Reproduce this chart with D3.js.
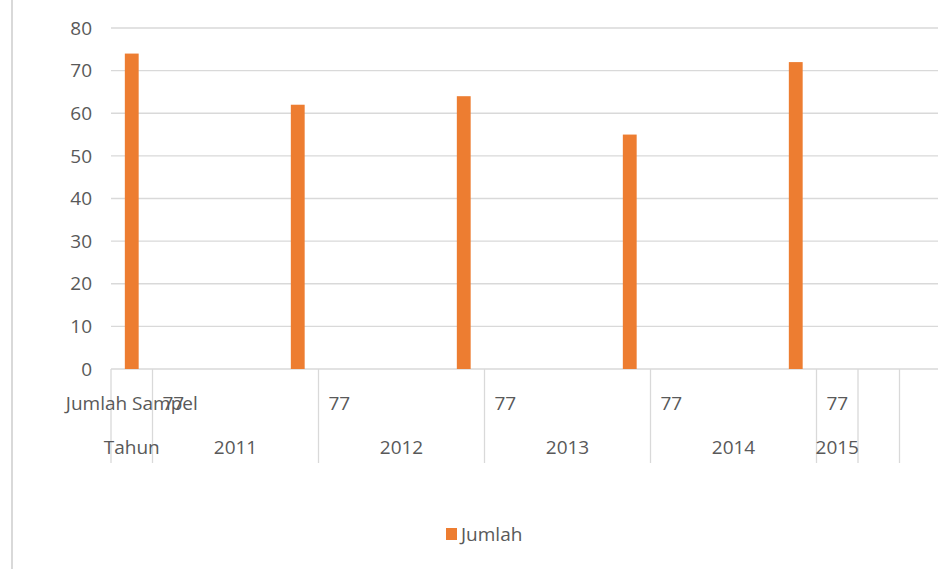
<!DOCTYPE html>
<html>
<head>
<meta charset="utf-8">
<script src="https://cdn.jsdelivr.net/npm/d3@7"></script>
<style>
  body { margin: 0; background: #fff; }
  text { font-family: "Open Sans", sans-serif; fill: #595959; }
</style>
</head>
<body>
<div id="chart-container"></div>
<script>
// data
var years = ["2011", "2012", "2013", "2014", "2015"];
var jumlah = [74, 62, 64, 55, 72];
var sampel = [77, 77, 77, 77, 77];
var rowLabels = ["Jumlah Sampel", "Tahun"];
var yTicks = [0, 10, 20, 30, 40, 50, 60, 70, 80];
var seriesName = "Jumlah";

var svgWidth = 938;
var svgHeight = 569;
var margin = { top: 28, right: 0, bottom: 200, left: 111 };
var width = 830;
var height = 341;
var fontSize = "19px";

var svg = d3.select("#chart-container")
    .append("svg")
    .attr("width", svgWidth)
    .attr("height", svgHeight);

// chart border on the left
svg.append("line")
    .attr("x1", 12).attr("x2", 12)
    .attr("y1", 0).attr("y2", svgHeight)
    .attr("stroke", "#d9d9d9").attr("stroke-width", 2);

var g = svg.append("g")
    .attr("transform", "translate(" + margin.left + "," + margin.top + ")");

// Excel lays the categories out on a grid of 20 equal slots
var slots = d3.range(20);
var x = d3.scaleBand().domain(slots).range([0, width]);
var u = x.bandwidth();

var y = d3.scaleLinear().domain([0, 80]).range([height, 0]);

// gridlines
g.selectAll(".grid")
    .data(yTicks)
    .enter().append("line")
    .attr("x1", 0).attr("x2", svgWidth - margin.left)
    .attr("y1", function(d) { return y(d); })
    .attr("y2", function(d) { return y(d); })
    .attr("stroke", "#d9d9d9").attr("stroke-width", 1.3);

// y axis labels
g.selectAll(".ylab")
    .data(yTicks)
    .enter().append("text")
    .attr("x", -19)
    .attr("y", function(d) { return y(d); })
    .attr("dy", "0.35em")
    .attr("text-anchor", "end")
    .style("font-size", fontSize)
    .text(function(d) { return d; });

// bars: one bar at the first slot of each year block
g.selectAll(".bar")
    .data(jumlah)
    .enter().append("rect")
    .attr("x", function(d, i) { return x(i * 4) + u / 3; })
    .attr("width", u / 3)
    .attr("y", function(d) { return y(d); })
    .attr("height", function(d) { return height - y(d); })
    .style("fill", "#ed7d31");

// category table below the axis
var tableTop = height;
var tableBottom = height + 94;
var cellStart = years.map(function(d, i) { return 1 + i * 4; });
var cellEnd = years.map(function(d, i) { return Math.min(5 + i * 4, 18); });
var dividers = [0].concat(cellStart).concat([18, 19]);

g.selectAll(".div")
    .data(dividers)
    .enter().append("line")
    .attr("x1", function(d) { return x(d); })
    .attr("x2", function(d) { return x(d); })
    .attr("y1", tableTop).attr("y2", tableBottom)
    .attr("stroke", "#d9d9d9").attr("stroke-width", 1.3);

g.selectAll(".rowlab")
    .data(rowLabels)
    .enter().append("text")
    .attr("x", x(0) + u / 2)
    .attr("y", function(d, i) { return tableTop + 34 + i * 44; })
    .attr("dy", "0.35em")
    .attr("text-anchor", "middle")
    .style("font-size", fontSize)
    .text(function(d) { return d; });

g.selectAll(".samp")
    .data(sampel)
    .enter().append("text")
    .attr("x", function(d, i) { return x(cellStart[i]) + 10; })
    .attr("y", tableTop + 34)
    .attr("dy", "0.35em")
    .style("font-size", fontSize)
    .text(function(d) { return d; });

g.selectAll(".year")
    .data(years)
    .enter().append("text")
    .attr("x", function(d, i) { return (x(cellStart[i]) + x(cellEnd[i])) / 2; })
    .attr("y", tableTop + 78)
    .attr("dy", "0.35em")
    .attr("text-anchor", "middle")
    .style("font-size", fontSize)
    .text(function(d) { return d; });

// legend
var legend = svg.append("g").attr("transform", "translate(446,534)");
legend.append("rect")
    .attr("x", 0).attr("y", -6)
    .attr("width", 11).attr("height", 12)
    .style("fill", "#ed7d31");
legend.append("text")
    .attr("x", 15).attr("y", 0)
    .attr("dy", "0.35em")
    .style("font-size", fontSize)
    .text(seriesName);
</script>
</body>
</html>
